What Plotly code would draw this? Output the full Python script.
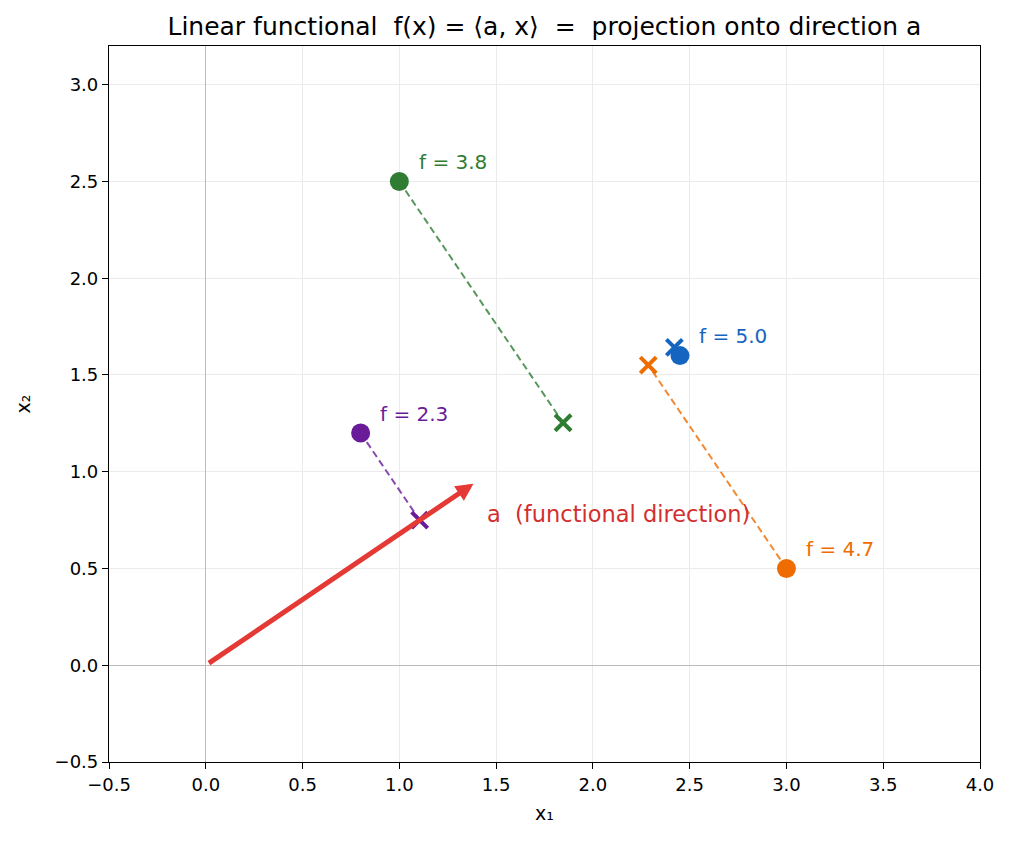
import plotly.graph_objects as go

# data
names = ["purple", "green", "orange", "blue"]
pt_x = [0.8, 1.0, 3.0, 2.45]
pt_y = [1.2, 2.5, 0.5, 1.6]
proj_x = [1.105, 1.846, 2.286, 2.421]
proj_y = [0.75, 1.253, 1.551, 1.643]
f_vals = [2.3, 3.8, 4.7, 5.0]
colors = ["#6a1b9a", "#2e7d32", "#ef6c00", "#1565c0"]
dash_colors = ["rgba(106,27,154,0.8)", "rgba(46,125,50,0.8)", "rgba(239,108,0,0.8)", "rgba(21,101,192,0.8)"]
a_vec = [1.4, 0.95]

fig = go.Figure()

for i in range(len(pt_x)):
    fig.add_trace(go.Scatter(x=[pt_x[i], proj_x[i]], y=[pt_y[i], proj_y[i]], mode="lines",
                             line=dict(color=dash_colors[i], width=2, dash="7px,4px"),
                             showlegend=False, hoverinfo="skip"))
for i in range(len(pt_x)):
    fig.add_trace(go.Scatter(x=[proj_x[i]], y=[proj_y[i]], mode="markers",
                             marker=dict(symbol="x-thin", size=16, color=colors[i],
                                         line=dict(color=colors[i], width=4)),
                             showlegend=False))
for i in range(len(pt_x)):
    fig.add_trace(go.Scatter(x=[pt_x[i]], y=[pt_y[i]], mode="markers",
                             marker=dict(symbol="circle", size=19, color=colors[i]),
                             showlegend=False))

annotations = []
for i in range(len(pt_x)):
    annotations.append(dict(x=pt_x[i] + 0.1, y=pt_y[i] + 0.1, xref="x", yref="y",
                            text=f"f = {f_vals[i]:.1f}", showarrow=False,
                            xanchor="left", yanchor="middle", xshift=-2,
                            font=dict(family="DejaVu Sans", size=20, color=colors[i])))

annotations.append(dict(x=a_vec[0], y=a_vec[1], ax=0, ay=0, xref="x", yref="y",
                        axref="x", ayref="y", showarrow=True, text="",
                        arrowhead=2, arrowsize=0.7, arrowwidth=5, arrowcolor="#e53935",
                        standoff=4, startstandoff=2))
annotations.append(dict(x=1.45, y=0.78, xref="x", yref="y", text="a  (functional direction)",
                        showarrow=False, xanchor="left", yanchor="middle", xshift=-1,
                        font=dict(family="DejaVu Sans", size=22.5, color="#d32f2f")))

fig.update_layout(
    width=1011, height=841,
    margin=dict(l=109, r=31, t=46, b=79),
    paper_bgcolor="white", plot_bgcolor="white",
    font=dict(family="DejaVu Sans", size=18, color="black"),
    title=dict(text="Linear functional  f(x) = \u27e8a, x\u27e9  =  projection onto direction a",
               x=0.5385, xanchor="center", y=0.969, yanchor="middle",
               font=dict(family="DejaVu Sans", size=25, color="black")),
    annotations=annotations,
    showlegend=False,
)
fig.update_xaxes(range=[-0.5, 4.0], tick0=-0.5, dtick=0.5, tickformat=".1f",
                 showgrid=True, gridcolor="#ebebeb", gridwidth=1,
                 zeroline=True, zerolinecolor="#bbbbbb", zerolinewidth=1.4,
                 showline=True, linecolor="black", linewidth=1.2, mirror=True,
                 ticks="outside", ticklen=6, tickcolor="black",
                 title=dict(text="x\u2081", font=dict(size=19), standoff=12),
                 tickfont=dict(size=18))
fig.update_yaxes(range=[-0.5, 3.2], tick0=-0.5, dtick=0.5, tickformat=".1f",
                 showgrid=True, gridcolor="#ebebeb", gridwidth=1,
                 zeroline=True, zerolinecolor="#bbbbbb", zerolinewidth=1.4,
                 showline=True, linecolor="black", linewidth=1.2, mirror=True,
                 ticks="outside", ticklen=6, tickcolor="black",
                 title=dict(text="x\u2082", font=dict(size=19), standoff=18),
                 tickfont=dict(size=18))

fig.write_html("out.html")
